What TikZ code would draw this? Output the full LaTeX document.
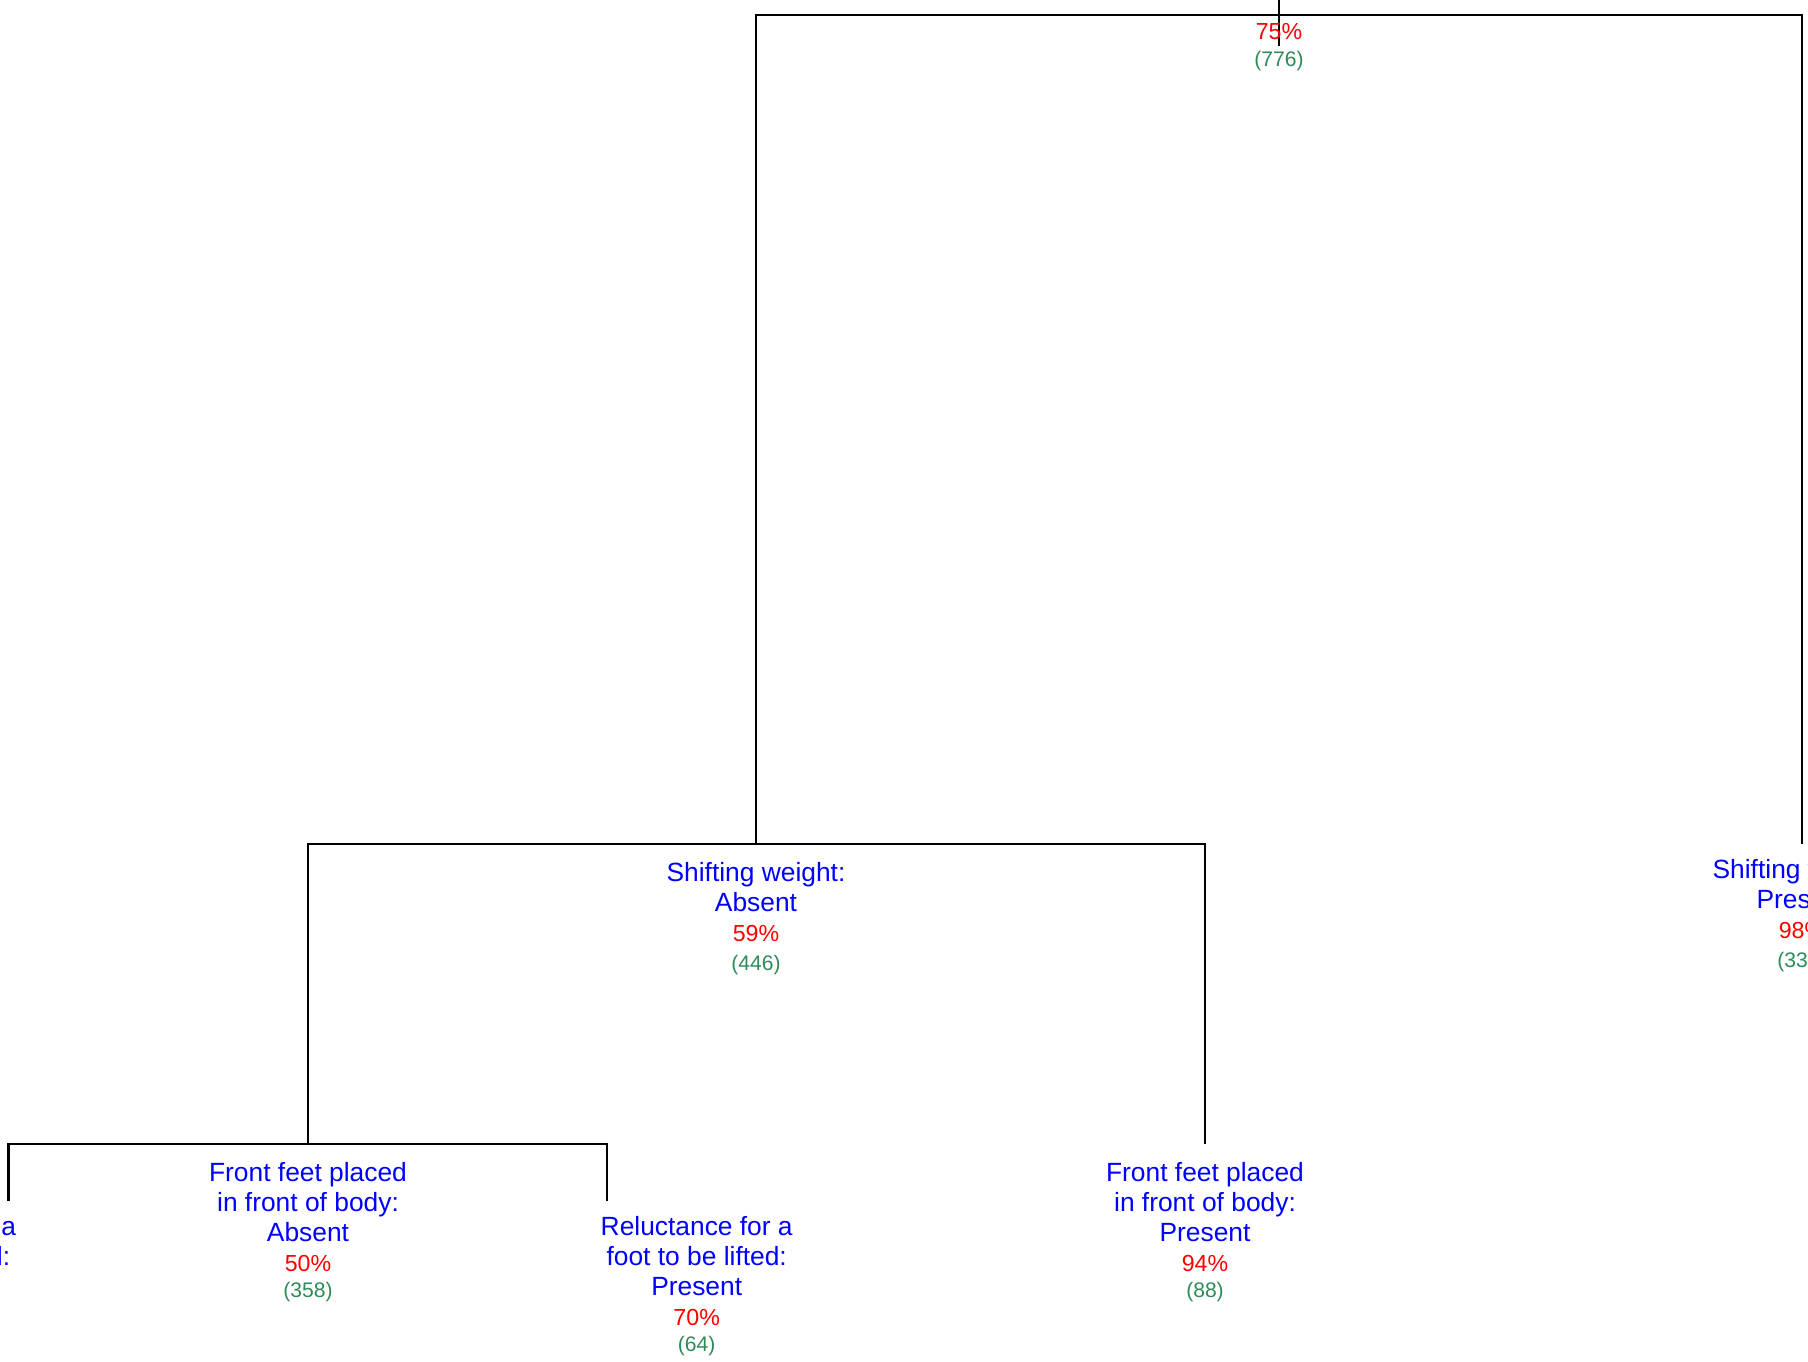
\documentclass[tikz,border=0pt]{standalone}
\usepackage{fontspec}
\setmainfont{Liberation Sans}
\usetikzlibrary{positioning}

\definecolor{pctred}{RGB}{255,0,0}
\definecolor{cntgreen}{RGB}{46,139,87}

\newcommand{\pct}[1]{{\color{pctred}\fontsize{6.6}{8}\selectfont #1\%}}
\newcommand{\cnt}[1]{{\color{cntgreen}\fontsize{6}{7}\selectfont (#1)}}

\tikzset{
    branch/.style={draw=black, line width=0.65pt},
    lbl/.style={align=center, inner sep=0pt, text=blue,
        font=\fontsize{7.5}{8.5}\selectfont},
}

\begin{document}
\begin{tikzpicture}
    \useasboundingbox (0,0) rectangle (18.08,-13.61);
    \clip (0,0) rectangle (18.08,-13.61);

    % ends of the tree lines
    \coordinate (in)      at (12.79,0);
    \coordinate (rootend) at (12.79,-0.46);
    \coordinate (rootbar) at (12.79,-0.15);
    \coordinate (swAend)  at (7.56,-8.44);
    \coordinate (swPend)  at (18.02,-8.44);
    \coordinate (ffAend)  at (3.08,-11.44);
    \coordinate (ffPend)  at (12.05,-11.44);
    \coordinate (rlAend)  at (0.085,-12.01);
    \coordinate (rlPend)  at (6.067,-12.01);

    % splits
    \draw[branch] (in) -- (rootend);
    \draw[branch] (swAend) |- (rootbar) -| (swPend);
    \draw[branch] (ffAend) |- (swAend) -| (ffPend);
    \draw[branch] (rlAend) |- (ffAend) -| (rlPend);

    % labels
    \node[lbl, anchor=north] (root) at (12.79,-0.23) {\pct{75}\\[-1pt]\cnt{776}};
    \node[lbl, below=1.8mm of swAend] (swA) {Shifting weight:\\Absent\\\pct{59}\\[-0.3pt]\cnt{446}};
    \node[lbl, below=1.5mm of swPend] (swP) {Shifting weight:\\Present\\\pct{98}\\[-0.3pt]\cnt{330}};
    \node[lbl, below=1.8mm of ffAend] (ffA) {Front feet placed\\in front of body:\\Absent\\\pct{50}\\[-1.2pt]\cnt{358}};
    \node[lbl, below=1.8mm of ffPend] (ffP) {Front feet placed\\in front of body:\\Present\\\pct{94}\\[-1.2pt]\cnt{88}};
    \node[lbl, below=1.5mm of rlAend, xshift=-8.85mm] (rlA) {Reluctance for a\\foot to be lifted:};
    \node[lbl, below=1.5mm of rlPend, xshift=9mm] (rlP) {Reluctance for a\\foot to be lifted:\\Present\\\pct{70}\\[-1.2pt]\cnt{64}};
\end{tikzpicture}
\end{document}
